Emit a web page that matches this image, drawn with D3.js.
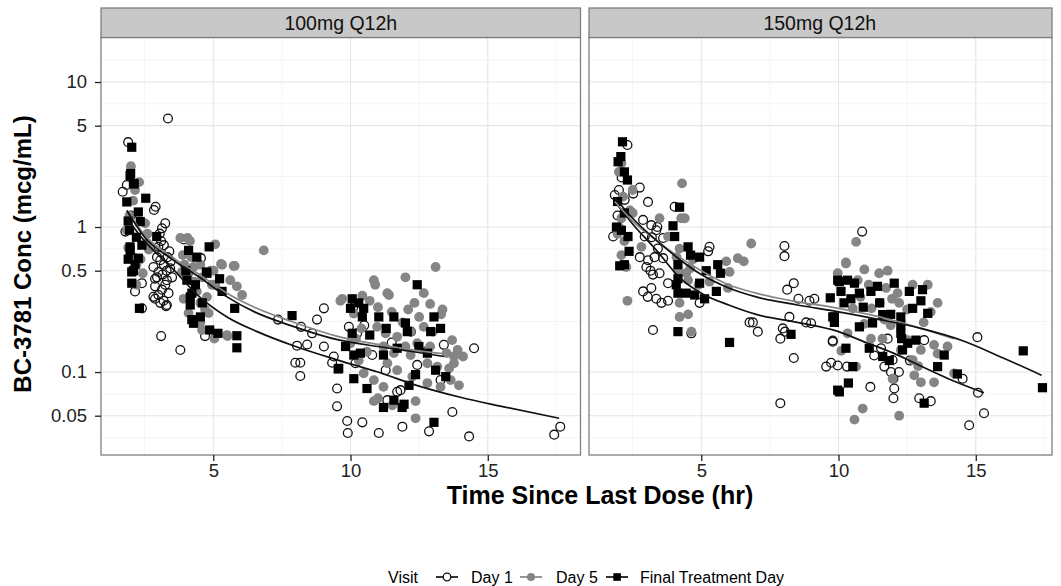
<!DOCTYPE html>
<html>
<head>
<meta charset="utf-8">
<script src="https://cdn.jsdelivr.net/npm/d3@7"></script>
<style>
  body { margin: 0; background: #fff; }
  svg { display: block; font-family: "Liberation Sans", Arial, sans-serif; }
</style>
</head>
<body>
<div id="chart"></div>
<script>
// facets, visits, ticks
const panels = ["100mg Q12h", "150mg Q12h"];
const visits = ["Day 1", "Day 5", "Final Treatment Day"];
const xTicks = [5, 10, 15];
const yTicks = [0.05, 0.1, 0.5, 1, 5, 10];

// observed [hours, mcg/mL] — 100mg
const day1_100 = [[1.9,3.85],[3.35,5.6],[1.7,1.75],[1.85,1.95],[1.8,0.93],[2.15,0.36],[2.4,0.41],[2.4,0.275],[2.84,1.31],[2.9,1.38],[2.0,1.2],
  [3.25,1.06],[3.13,0.98],[3.05,0.9],[3.4,0.68],[3.33,0.62],[3.0,0.73],[2.82,0.53],[3.0,0.49],[3.15,0.47],[3.31,0.43],[2.88,0.39],[3.13,0.37],
  [3.37,0.35],[3.0,0.34],[2.82,0.33],[3.19,0.31],[3.31,0.29],[2.88,0.32],[3.28,0.285],[3.07,0.3],[3.07,0.59],[3.43,0.52],[2.88,0.44],[3.25,0.4],
  [3.5,0.45],[3.2,0.55],[2.95,0.62],[3.45,0.58],[3.1,0.8],[3.2,0.75],[3.3,0.5],[2.95,0.45],[3.1,0.177],[3.8,0.142],[3.93,0.82],[4.55,0.61],[4.7,0.177],
  [7.36,0.23],[8.05,0.152],[8.42,0.155],[9.03,0.15],[9.03,0.275],[8.78,0.23],[8.2,0.205],[8.6,0.185],[7.99,0.116],[8.17,0.116],[8.17,0.094],
  [9.39,0.128],[9.33,0.116],[9.51,0.077],[9.51,0.058],[9.88,0.046],[10.43,0.045],[9.9,0.038],[11.03,0.038],[11.89,0.042],[12.86,0.039],
  [13.71,0.053],[14.32,0.036],[17.42,0.037],[17.64,0.042],[9.94,0.205],[10.18,0.115],[10.79,0.131],[11.28,0.103],[11.82,0.075],[11.7,0.073],
  [11.34,0.064],[12.43,0.112],[13.28,0.088],[13.4,0.154],[14.5,0.146],[10.24,0.185],[10.1,0.28],[10.5,0.21],[11.5,0.16],[12.2,0.19],[12.8,0.14]];
const day5_100 = [[2.0,2.63],[2.3,2.04],[2.08,1.52],[1.85,0.95],[2.09,0.62],[2.43,0.48],[2.58,0.77],[2.65,0.7],[2.2,0.55],[2.52,1.06],[2.6,0.9],
  [1.95,1.2],[2.15,1.8],[2.2,0.4],[1.9,0.72],[2.35,0.6],[3.8,0.84],[4.06,0.84],[4.15,0.8],[5.07,0.76],[3.89,0.64],[4.53,0.55],[5.32,0.55],
  [5.74,0.54],[4.9,0.5],[3.86,0.49],[4.1,0.48],[5.62,0.43],[6.05,0.34],[4.95,0.4],[4.3,0.42],[3.92,0.32],[4.53,0.3],[4.7,0.27],[4.1,0.255],
  [4.83,0.255],[4.53,0.22],[4.59,0.195],[5.5,0.18],[5.52,0.177],[5.04,0.17],[5.86,0.39],[6.84,0.69],[5.28,0.556],[5.78,0.54],[4.28,0.53],
  [5.01,0.5],[5.07,0.4],[4.77,0.33],[4.4,0.36],[4.2,0.62],[3.95,0.55],[4.6,0.45],
  [13.1,0.53],[10.85,0.43],[10.9,0.4],[12.0,0.45],[11.34,0.35],[11.4,0.34],[9.7,0.32],[10.43,0.336],[10.7,0.31],[12.67,0.35],[12.33,0.3],
  [12.9,0.295],[13.35,0.27],[13.3,0.25],[10.12,0.253],[10.97,0.205],[11.28,0.185],[11.7,0.175],[12.19,0.19],[12.67,0.205],[12.43,0.158],
  [12.0,0.15],[12.9,0.15],[13.7,0.166],[13.9,0.142],[13.77,0.128],[13.5,0.135],[13.77,0.115],[13.59,0.106],[13.95,0.081],[13.28,0.079],
  [12.8,0.084],[12.25,0.093],[11.7,0.103],[11.34,0.115],[10.85,0.088],[11.2,0.079],[10.85,0.063],[11.0,0.066],[12.37,0.063],[12.37,0.048],
  [11.52,0.059],[10.48,0.098],[10.3,0.12],[10.6,0.138],[10.0,0.158],[11.58,0.135],[12.19,0.131],[12.8,0.115],[13.16,0.109],[13.65,0.088],
  [14.1,0.128],[9.63,0.31],[11.0,0.28],[11.5,0.26],[12.1,0.27],[10.4,0.2],[11.9,0.22],[12.5,0.24],[13.0,0.19],[11.2,0.15],[10.2,0.17]];
const final_100 = [[2.03,3.55],[1.97,2.26],[2.12,1.98],[2.54,1.58],[1.99,2.34],[2.09,2.0],[1.85,1.49],[2.27,1.27],[2.34,1.09],[1.97,0.73],
  [2.27,0.61],[2.03,0.49],[2.03,0.41],[2.31,0.275],[2.94,0.86],[1.97,0.69],[2.09,0.5],[1.9,1.1],[2.2,0.85],[1.95,0.95],[2.15,0.55],[2.4,0.75],[1.9,0.6],
  [4.1,0.69],[4.85,0.73],[4.4,0.62],[4.75,0.49],[5.23,0.44],[5.32,0.36],[4.04,0.43],[4.16,0.33],[4.16,0.29],[4.28,0.217],[4.53,0.24],[4.87,0.195],
  [5.17,0.185],[5.86,0.178],[5.86,0.147],[5.78,0.275],[7.87,0.245],[4.22,0.35],[4.22,0.23],[4.77,0.48],[4.0,0.5],[4.35,0.4],[4.6,0.3],
  [9.55,0.105],[12.43,0.4],[10.06,0.32],[10.0,0.275],[10.48,0.275],[11.03,0.24],[11.58,0.24],[12.0,0.218],[10.43,0.24],[13.04,0.24],[13.28,0.2],
  [12.92,0.19],[10.06,0.185],[9.82,0.15],[10.12,0.131],[10.36,0.135],[11.2,0.131],[11.7,0.146],[12.07,0.19],[12.49,0.15],[12.8,0.135],[13.1,0.103],
  [13.47,0.093],[12.37,0.096],[12.13,0.081],[9.57,0.106],[10.12,0.09],[10.6,0.077],[11.58,0.064],[11.2,0.057],[11.88,0.057],[11.95,0.06],
  [13.04,0.045],[10.3,0.3],[10.7,0.18],[11.3,0.2]];

// observed — 150mg
const day1_150 = [[2.31,3.68],[2.76,1.87],[2.52,1.7],[1.85,1.66],[2.21,1.54],[3.06,1.49],[4.03,1.38],[1.79,0.86],[2.88,1.12],[3.18,1.03],
  [3.36,0.95],[3.4,1.0],[2.94,0.86],[3.2,0.85],[3.61,0.84],[3.42,0.71],[2.76,0.62],[3.06,0.59],[3.3,0.62],[3.61,0.61],[3.0,0.53],[3.15,0.5],
  [3.24,0.47],[3.48,0.48],[2.88,0.36],[3.18,0.38],[3.05,0.33],[3.36,0.32],[3.55,0.3],[3.79,0.31],[4.94,0.3],[5.3,0.73],[5.25,0.68],[3.79,0.41],
  [3.24,0.195],[4.64,0.185],[6.76,0.22],[2.0,1.8],[1.95,1.2],[2.1,2.2],
  [8.03,0.74],[8.03,0.63],[8.37,0.41],[8.13,0.37],[8.54,0.32],[8.94,0.31],[9.12,0.32],[8.21,0.24],[6.88,0.22],[7.06,0.19],[7.97,0.2],[8.05,0.19],
  [7.88,0.17],[8.82,0.22],[9.0,0.217],[8.37,0.125],[7.88,0.061],[9.79,0.162],[9.55,0.109],[9.73,0.116],[9.97,0.111],[10.31,0.109],[9.79,0.165],
  [11.16,0.079],[11.67,0.109],[11.97,0.121],[11.91,0.1],[12.2,0.1],[12.0,0.09],[12.03,0.077],[12.0,0.066],[12.94,0.066],[13.36,0.063],
  [13.12,0.166],[11.79,0.17],[11.55,0.146],[14.52,0.09],[14.76,0.043],[15.06,0.174],[15.3,0.052],[10.86,0.93],[15.08,0.072],[12.6,0.12],[11.3,0.13]];
const day5_150 = [[2.09,2.75],[2.0,2.4],[4.3,2.0],[2.15,1.62],[2.5,1.8],[2.09,1.15],[3.48,1.15],[2.5,1.25],[2.82,0.73],[2.09,0.64],[2.27,0.53],
  [2.31,0.31],[4.27,1.15],[4.4,1.15],[3.79,0.86],[4.21,0.71],[4.1,0.62],[4.45,0.48],[4.6,0.52],[4.15,0.5],[5.91,0.58],[6.33,0.61],[6.55,0.58],
  [6.03,0.49],[4.52,0.43],[4.21,0.3],[4.52,0.25],[4.21,0.24],[4.64,0.19],[6.82,0.77],[5.97,0.38],[1.95,0.9],[2.2,0.8],[2.0,1.0],[2.4,1.3],
  [4.7,0.6],[4.9,0.4],[5.3,0.42],
  [9.97,0.48],[10.27,0.56],[10.94,0.51],[11.48,0.48],[11.79,0.5],[10.7,0.43],[11.1,0.4],[11.73,0.38],[12.7,0.4],[13.25,0.4],[12.15,0.35],
  [11.95,0.32],[12.21,0.3],[13.61,0.3],[13.36,0.26],[10.52,0.275],[11.2,0.275],[10.94,0.215],[11.9,0.21],[10.33,0.185],[11.18,0.17],[12.52,0.166],
  [13.0,0.142],[13.48,0.154],[13.61,0.134],[13.97,0.15],[10.64,0.109],[12.76,0.095],[13.0,0.085],[13.48,0.085],[14.21,0.098],[11.97,0.09],
  [10.88,0.056],[10.58,0.047],[12.21,0.05],[12.7,0.121],[12.27,0.142],[11.67,0.23],[10.64,0.79],[10.27,0.57],[11.5,0.3],[12.5,0.27],[13.1,0.22],
  [10.8,0.33],[11.6,0.17],[12.9,0.11],[10.1,0.14]];
const final_150 = [[2.13,3.87],[2.07,3.06],[1.97,2.82],[2.31,2.11],[2.2,2.4],[1.91,1.0],[2.09,0.95],[2.33,0.86],[2.37,0.68],[2.03,0.54],[2.2,0.55],
  [4.21,1.37],[3.97,1.02],[4.03,0.86],[4.52,0.73],[4.61,0.64],[4.94,0.62],[4.15,0.55],[5.18,0.5],[5.6,0.55],[5.7,0.48],[4.15,0.44],[4.09,0.4],
  [4.15,0.35],[4.45,0.35],[4.76,0.34],[5.12,0.32],[4.94,0.41],[5.55,0.36],[4.15,0.19],[6.03,0.16],[1.95,1.5],[2.2,1.25],
  [8.27,0.182],[9.7,0.325],[9.85,0.24],[9.97,0.075],[9.97,0.43],[10.03,0.42],[10.33,0.43],[10.58,0.41],[10.09,0.36],[10.45,0.32],[10.76,0.35],
  [11.18,0.36],[11.42,0.39],[12.03,0.41],[12.58,0.36],[13.06,0.37],[13.0,0.31],[12.7,0.275],[13.25,0.254],[9.79,0.24],[9.85,0.22],[10.76,0.205],
  [11.24,0.218],[11.61,0.249],[11.9,0.25],[12.27,0.24],[12.27,0.185],[12.3,0.17],[12.52,0.158],[12.82,0.166],[12.33,0.142],[10.27,0.146],
  [11.12,0.146],[11.61,0.128],[11.85,0.12],[13.61,0.109],[13.85,0.131],[14.33,0.097],[10.52,0.109],[10.36,0.084],[10.03,0.073],[13.12,0.061],
  [12.27,0.211],[16.73,0.14],[17.43,0.078],[10.2,0.3],[10.9,0.28],[11.5,0.3]];

// smooth fits
const fitDay1_100 = [[1.85,1.15],[2.5,0.8],[3.5,0.52],[4.5,0.33],[5.5,0.24],[6.6,0.19],[8,0.15],[9.6,0.12],[11,0.1],[12.5,0.08],[14,0.067],[15.5,0.058],[17.6,0.048]];
const fitDay5_100 = [[1.85,1.3],[2.5,0.88],[3.5,0.62],[4.5,0.47],[5.5,0.35],[6.5,0.28],[7.8,0.225],[9.6,0.175],[11,0.155],[12.5,0.14],[14.1,0.13]];
const fitFinal_100 = [[1.85,1.3],[2.5,0.85],[3.5,0.6],[4.5,0.45],[5.5,0.33],[6.5,0.26],[7.8,0.21],[9.6,0.166],[11,0.15],[12.3,0.138],[13.4,0.128]];
const fitDay1_150 = [[1.85,1.5],[2.5,1.05],[3.4,0.68],[4.2,0.45],[5,0.35],[6,0.29],[7,0.25],[8.5,0.22],[10,0.19],[11,0.16],[12,0.135],[13,0.11],[14,0.09],[15.3,0.072]];
const fitDay5_150 = [[1.85,1.5],[2.5,1.1],[3.4,0.8],[4.2,0.62],[5,0.5],[6,0.4],[7,0.35],[8.3,0.31],[10,0.275],[11.5,0.24],[13,0.2],[14.2,0.17]];
const fitFinal_150 = [[1.85,1.6],[2.5,1.15],[3.4,0.8],[4.2,0.6],[5,0.47],[6,0.38],[7,0.33],[8.5,0.29],[10,0.26],[11.5,0.23],[13,0.2],[14.5,0.165],[16,0.125],[17.4,0.095]];

const obs = [[day1_100, day5_100, final_100], [day1_150, day5_150, final_150]];
const fits = [[fitDay1_100, fitDay5_100, fitFinal_100], [fitDay1_150, fitDay5_150, fitFinal_150]];

const width = 1061, height = 586;
const panelTop = 37.5, panelBottom = 455, stripTop = 8;
const panelBox = [{x0: 101, x1: 580.5}, {x0: 589, x1: 1052}];
const pxPerHr = 27.45;
const xDomain = [0.91, 0.91 + 479.5 / pxPerHr];

const grey = "#858585";
const lineCol = [ "#111", grey, "#111" ];
const fontStack = "Liberation Sans, Arial, sans-serif";

const svg = d3.select("#chart").append("svg")
  .attr("width", width).attr("height", height);

const y = d3.scaleLog().domain([Math.pow(10, -1.572), Math.pow(10, 1.307)]).range([panelBottom, panelTop]);
// minor breaks halfway between majors in log space
const yMinor = [0.0354, 0.0707, 0.2236, 0.7071, 2.236, 7.071, 14.14];
const xMinor = [2.5, 7.5, 12.5, 17.5];

const defs = svg.append("defs");

panels.forEach((name, i) => {
  const box = panelBox[i];
  const x = d3.scaleLinear().domain(xDomain).range([box.x0, box.x0 + 479.5]);
  const g = svg.append("g");

  defs.append("clipPath").attr("id", "clip" + i)
    .append("rect").attr("x", box.x0).attr("y", panelTop)
    .attr("width", box.x1 - box.x0).attr("height", panelBottom - panelTop);

  // grid
  const grid = g.append("g").attr("clip-path", `url(#clip${i})`);
  grid.selectAll(".ymin").data(yMinor).join("line")
    .attr("x1", box.x0).attr("x2", box.x1)
    .attr("y1", d => y(d)).attr("y2", d => y(d))
    .attr("stroke", "#f4f4f4").attr("stroke-width", 1);
  grid.selectAll(".xmin").data(xMinor).join("line")
    .attr("x1", d => x(d)).attr("x2", d => x(d))
    .attr("y1", panelTop).attr("y2", panelBottom)
    .attr("stroke", "#f4f4f4").attr("stroke-width", 1);
  grid.selectAll(".ymaj").data(yTicks).join("line")
    .attr("x1", box.x0).attr("x2", box.x1)
    .attr("y1", d => y(d)).attr("y2", d => y(d))
    .attr("stroke", "#e6e6e6").attr("stroke-width", 1.1);
  grid.selectAll(".xmaj").data(xTicks).join("line")
    .attr("x1", d => x(d)).attr("x2", d => x(d))
    .attr("y1", panelTop).attr("y2", panelBottom)
    .attr("stroke", "#e6e6e6").attr("stroke-width", 1.1);

  const plot = g.append("g").attr("clip-path", `url(#clip${i})`);

  // points: Day 1 open circles, Day 5 grey dots, Final black squares
  plot.selectAll(".d1").data(obs[i][0]).join("circle")
    .attr("cx", d => x(d[0])).attr("cy", d => y(d[1])).attr("r", 4.4)
    .attr("fill", "none").attr("stroke", "#111").attr("stroke-width", 1.3);
  plot.selectAll(".d5").data(obs[i][1]).join("circle")
    .attr("cx", d => x(d[0])).attr("cy", d => y(d[1])).attr("r", 4.9)
    .attr("fill", grey);
  plot.selectAll(".fin").data(obs[i][2]).join("rect")
    .attr("x", d => x(d[0]) - 4.6).attr("y", d => y(d[1]) - 4.6)
    .attr("width", 9.2).attr("height", 9.2).attr("fill", "#000");

  // smooths
  const line = d3.line().curve(d3.curveMonotoneX).x(d => x(d[0])).y(d => y(d[1]));
  fits[i].forEach((f, k) => {
    plot.append("path").datum(f).attr("d", line)
      .attr("fill", "none").attr("stroke", lineCol[k]).attr("stroke-width", 1.7);
  });

  // panel border
  g.append("rect").attr("x", box.x0).attr("y", panelTop)
    .attr("width", box.x1 - box.x0).attr("height", panelBottom - panelTop)
    .attr("fill", "none").attr("stroke", "#7f7f7f").attr("stroke-width", 1.3);

  // strip
  g.append("rect").attr("x", box.x0).attr("y", stripTop)
    .attr("width", box.x1 - box.x0).attr("height", panelTop - stripTop)
    .attr("fill", "#c8c8c8").attr("stroke", "#7f7f7f").attr("stroke-width", 1.3);
  g.append("text").attr("x", (box.x0 + box.x0 + 479.5) / 2 - (i ? 9 : 0)).attr("y", (stripTop + panelTop) / 2)
    .attr("dy", "0.36em").attr("text-anchor", "middle")
    .style("font-size", "19.5px").attr("fill", "#111").text(name);

  // x axis
  const xAxis = g.append("g").attr("transform", `translate(0,${panelBottom})`)
    .call(d3.axisBottom(x).tickValues(xTicks).tickSize(6).tickPadding(3).tickFormat(d3.format("d")));
  xAxis.select(".domain").remove();
  xAxis.selectAll("line").attr("stroke", "#222").attr("stroke-width", 1.3);
  xAxis.selectAll("text").style("font-size", "18.5px").attr("fill", "#222").style("font-family", fontStack);

  if (i === 0) {
    const yAxis = g.append("g").attr("transform", `translate(${box.x0},0)`)
      .call(d3.axisLeft(y).tickValues(yTicks).tickSize(6).tickPadding(8).tickFormat(d => d));
    yAxis.select(".domain").remove();
    yAxis.selectAll("line").attr("stroke", "#222").attr("stroke-width", 1.3);
    yAxis.selectAll("text").style("font-size", "18.5px").attr("fill", "#222").style("font-family", fontStack);
  }
});

// axis titles
svg.append("text").attr("x", 600).attr("y", 495).attr("dy", "0.36em")
  .attr("text-anchor", "middle").style("font-size", "25px").style("font-weight", "bold")
  .text("Time Since Last Dose (hr)");
svg.append("text").attr("transform", `translate(22,${(113 + 395) / 2}) rotate(-90)`)
  .attr("dy", "0.36em").attr("text-anchor", "middle")
  .style("font-size", "24px").style("font-weight", "bold")
  .text("BC-3781 Conc (mcg/mL)");

// legend
const leg = svg.append("g").attr("transform", "translate(0,577)");
leg.append("text").attr("x", 388).attr("dy", "0.36em").style("font-size", "16px").text("Visit");
const keyX = [436, 520, 606];
const labX = [471, 556, 640];
visits.forEach((v, k) => {
  const kx = keyX[k];
  leg.append("line").attr("x1", kx).attr("x2", kx + 22).attr("stroke", lineCol[k]).attr("stroke-width", 1.7);
  if (k === 0) leg.append("circle").attr("cx", kx + 11).attr("r", 3.8).attr("fill", "#fff").attr("stroke", "#111").attr("stroke-width", 1.3);
  if (k === 1) leg.append("circle").attr("cx", kx + 11).attr("r", 4).attr("fill", grey);
  if (k === 2) leg.append("rect").attr("x", kx + 7.3).attr("y", -3.8).attr("width", 7.6).attr("height", 7.6).attr("fill", "#000");
  leg.append("text").attr("x", labX[k]).attr("dy", "0.36em").style("font-size", "16px").text(v);
});
</script>
</body>
</html>
